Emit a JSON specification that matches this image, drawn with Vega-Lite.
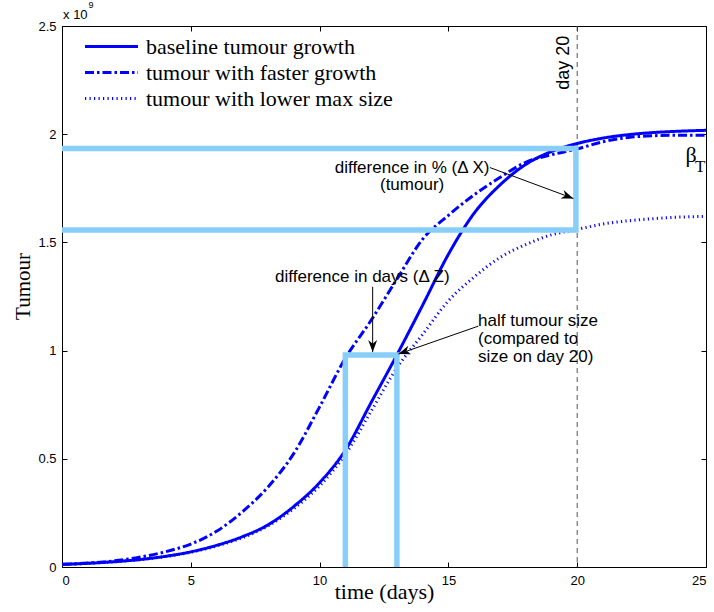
{
  "$schema": "https://vega.github.io/schema/vega-lite/v6.json",
  "width": 644,
  "height": 541,
  "autosize": {"type": "none"},
  "padding": {"left": 62, "top": 26, "right": 8, "bottom": 45},
  "background": "white",
  "config": {
    "view": {"stroke": "#000000", "strokeWidth": 1},
    "font": "Liberation Sans",
    "axis": {"grid": false, "domain": false, "tickColor": "#000000", "tickWidth": 1, "labelColor": "#000000", "titleColor": "#000000"},
    "legend": {"padding": 0}
  },
  "datasets": {
    "curves": [
      {"series": "baseline tumour growth", "t": 0, "v": 0.012},
      {"series": "baseline tumour growth", "t": 1, "v": 0.017},
      {"series": "baseline tumour growth", "t": 2, "v": 0.024},
      {"series": "baseline tumour growth", "t": 3, "v": 0.034},
      {"series": "baseline tumour growth", "t": 4, "v": 0.049},
      {"series": "baseline tumour growth", "t": 5, "v": 0.07},
      {"series": "baseline tumour growth", "t": 6, "v": 0.1},
      {"series": "baseline tumour growth", "t": 7, "v": 0.14},
      {"series": "baseline tumour growth", "t": 8, "v": 0.195},
      {"series": "baseline tumour growth", "t": 9, "v": 0.28},
      {"series": "baseline tumour growth", "t": 10, "v": 0.39},
      {"series": "baseline tumour growth", "t": 11, "v": 0.54},
      {"series": "baseline tumour growth", "t": 12, "v": 0.76},
      {"series": "baseline tumour growth", "t": 13, "v": 0.98},
      {"series": "baseline tumour growth", "t": 14, "v": 1.21},
      {"series": "baseline tumour growth", "t": 15, "v": 1.445},
      {"series": "baseline tumour growth", "t": 16, "v": 1.635},
      {"series": "baseline tumour growth", "t": 17, "v": 1.765},
      {"series": "baseline tumour growth", "t": 18, "v": 1.86},
      {"series": "baseline tumour growth", "t": 19, "v": 1.92},
      {"series": "baseline tumour growth", "t": 20, "v": 1.957},
      {"series": "baseline tumour growth", "t": 21, "v": 1.982},
      {"series": "baseline tumour growth", "t": 22, "v": 1.998},
      {"series": "baseline tumour growth", "t": 23, "v": 2.008},
      {"series": "baseline tumour growth", "t": 24, "v": 2.014},
      {"series": "baseline tumour growth", "t": 25, "v": 2.018},
      {"series": "tumour with faster growth", "t": 0, "v": 0.012},
      {"series": "tumour with faster growth", "t": 1, "v": 0.018},
      {"series": "tumour with faster growth", "t": 2, "v": 0.028},
      {"series": "tumour with faster growth", "t": 3, "v": 0.045},
      {"series": "tumour with faster growth", "t": 4, "v": 0.07},
      {"series": "tumour with faster growth", "t": 5, "v": 0.106},
      {"series": "tumour with faster growth", "t": 6, "v": 0.165},
      {"series": "tumour with faster growth", "t": 7, "v": 0.255},
      {"series": "tumour with faster growth", "t": 8, "v": 0.37},
      {"series": "tumour with faster growth", "t": 9, "v": 0.525},
      {"series": "tumour with faster growth", "t": 10, "v": 0.74},
      {"series": "tumour with faster growth", "t": 11, "v": 0.965},
      {"series": "tumour with faster growth", "t": 12, "v": 1.14},
      {"series": "tumour with faster growth", "t": 13, "v": 1.33},
      {"series": "tumour with faster growth", "t": 14, "v": 1.515},
      {"series": "tumour with faster growth", "t": 15, "v": 1.625},
      {"series": "tumour with faster growth", "t": 16, "v": 1.72},
      {"series": "tumour with faster growth", "t": 17, "v": 1.8},
      {"series": "tumour with faster growth", "t": 18, "v": 1.87},
      {"series": "tumour with faster growth", "t": 19, "v": 1.905},
      {"series": "tumour with faster growth", "t": 20, "v": 1.932},
      {"series": "tumour with faster growth", "t": 21, "v": 1.965},
      {"series": "tumour with faster growth", "t": 22, "v": 1.985},
      {"series": "tumour with faster growth", "t": 23, "v": 1.993},
      {"series": "tumour with faster growth", "t": 24, "v": 1.995},
      {"series": "tumour with faster growth", "t": 25, "v": 1.995},
      {"series": "tumour with lower max size", "t": 0, "v": 0.012},
      {"series": "tumour with lower max size", "t": 1, "v": 0.017},
      {"series": "tumour with lower max size", "t": 2, "v": 0.024},
      {"series": "tumour with lower max size", "t": 3, "v": 0.034},
      {"series": "tumour with lower max size", "t": 4, "v": 0.048},
      {"series": "tumour with lower max size", "t": 5, "v": 0.068},
      {"series": "tumour with lower max size", "t": 6, "v": 0.097},
      {"series": "tumour with lower max size", "t": 7, "v": 0.135},
      {"series": "tumour with lower max size", "t": 8, "v": 0.19},
      {"series": "tumour with lower max size", "t": 9, "v": 0.27},
      {"series": "tumour with lower max size", "t": 10, "v": 0.375},
      {"series": "tumour with lower max size", "t": 11, "v": 0.52},
      {"series": "tumour with lower max size", "t": 12, "v": 0.72},
      {"series": "tumour with lower max size", "t": 13, "v": 0.92},
      {"series": "tumour with lower max size", "t": 14, "v": 1.075},
      {"series": "tumour with lower max size", "t": 15, "v": 1.23},
      {"series": "tumour with lower max size", "t": 16, "v": 1.34},
      {"series": "tumour with lower max size", "t": 17, "v": 1.43},
      {"series": "tumour with lower max size", "t": 18, "v": 1.49},
      {"series": "tumour with lower max size", "t": 19, "v": 1.535},
      {"series": "tumour with lower max size", "t": 20, "v": 1.56},
      {"series": "tumour with lower max size", "t": 21, "v": 1.585},
      {"series": "tumour with lower max size", "t": 22, "v": 1.6},
      {"series": "tumour with lower max size", "t": 23, "v": 1.61},
      {"series": "tumour with lower max size", "t": 24, "v": 1.617},
      {"series": "tumour with lower max size", "t": 25, "v": 1.62}
    ],
    "boxes": [
      {"shape": "dx", "ord": 1, "t": 0, "v": 1.934},
      {"shape": "dx", "ord": 2, "t": 19.95, "v": 1.934},
      {"shape": "dx", "ord": 3, "t": 19.95, "v": 1.557},
      {"shape": "dx", "ord": 4, "t": 0, "v": 1.557},
      {"shape": "dz", "ord": 1, "t": 11, "v": 0},
      {"shape": "dz", "ord": 2, "t": 11, "v": 0.98},
      {"shape": "dz", "ord": 3, "t": 13, "v": 0.98},
      {"shape": "dz", "ord": 4, "t": 13, "v": 0}
    ],
    "arrows": [
      {"t": 16.61, "v": 1.846, "t2": 19.85, "v2": 1.703, "ang": 20.4},
      {"t": 12.06, "v": 1.295, "t2": 12.06, "v2": 0.993, "ang": 90},
      {"t": 16.16, "v": 1.113, "t2": 13.06, "v2": 0.984, "ang": 160.7}
    ],
    "centerText": [
      {"t": 13.59, "v": 1.843, "label": "difference in % (Δ X)"},
      {"t": 13.59, "v": 1.764, "label": "(tumour)"},
      {"t": 11.66, "v": 1.341, "label": "difference in days (Δ Z)"}
    ],
    "leftText": [
      {"t": 16.15, "v": 1.138, "label": "half tumour size"},
      {"t": 16.15, "v": 1.053, "label": "(compared to"},
      {"t": 16.15, "v": 0.97, "label": "size on day 20)"}
    ]
  },
  "layer": [
    {
      "layer": [
        {
          "data": {"values": [{"t": 20}]},
          "mark": {"type": "rule", "color": "#555555", "strokeWidth": 1, "strokeDash": [5, 4]},
          "encoding": {
            "x": {"field": "t", "type": "quantitative", "scale": {"domain": [0, 25], "nice": false, "zero": false}}
          }
        },
        {
          "data": {"name": "curves"},
          "mark": {"type": "line", "interpolate": "monotone", "strokeCap": "butt"},
          "encoding": {
            "x": {"field": "t", "type": "quantitative", "scale": {"domain": [0, 25], "nice": false, "zero": false},
              "axis": {"title": "time (days)", "orient": "bottom", "values": [0, 5, 10, 15, 20, 25], "tickSize": -5, "labelPadding": 12, "labelFontSize": 13, "labelFont": "Liberation Sans", "titleFont": "Liberation Serif", "titleFontSize": 22, "titleFontWeight": "normal", "titlePadding": -6}},
            "y": {"field": "v", "type": "quantitative", "scale": {"domain": [0, 2.5], "nice": false, "zero": false},
              "axis": {"title": "Tumour", "orient": "left", "values": [0, 0.5, 1, 1.5, 2, 2.5], "format": "~g", "tickSize": -5, "labelPadding": 11, "labelFontSize": 13, "labelFont": "Liberation Sans", "titleFont": "Liberation Serif", "titleFontSize": 21, "titleFontWeight": "normal", "titlePadding": 4, "titleY": 260}},
            "color": {"field": "series", "type": "nominal",
              "scale": {"domain": ["baseline tumour growth", "tumour with faster growth", "tumour with lower max size"], "range": ["#0000ff", "#0000ff", "#0000ff"]},
              "legend": {"orient": "none", "legendX": 38, "legendY": 9, "title": null, "symbolType": "M-2.65,0L2.65,0", "symbolSize": 400, "labelFont": "Liberation Serif", "labelFontSize": 22, "labelColor": "#000000", "labelOffset": 23, "labelLimit": 500, "rowPadding": 3}},
            "strokeDash": {"field": "series", "type": "nominal",
              "scale": {"domain": ["baseline tumour growth", "tumour with faster growth", "tumour with lower max size"], "range": [[1, 0], [9, 3, 2.5, 3], [1.2, 3.3]]},
              "legend": {"orient": "none", "legendX": 38, "legendY": 9, "title": null, "symbolType": "M-2.65,0L2.65,0", "symbolSize": 400, "labelFont": "Liberation Serif", "labelFontSize": 22, "labelColor": "#000000", "labelOffset": 23, "labelLimit": 500, "rowPadding": 3}},
            "strokeWidth": {"field": "series", "type": "ordinal",
              "scale": {"domain": ["baseline tumour growth", "tumour with faster growth", "tumour with lower max size"], "range": [3, 3, 1.2]},
              "legend": {"orient": "none", "legendX": 38, "legendY": 9, "title": null, "symbolType": "M-2.65,0L2.65,0", "symbolSize": 400, "labelFont": "Liberation Serif", "labelFontSize": 22, "labelColor": "#000000", "labelOffset": 23, "labelLimit": 500, "rowPadding": 3}}
          }
        }
      ]
    },
    {
      "data": {"name": "boxes"},
      "mark": {"type": "line", "color": "#87CEFA", "strokeWidth": 5.5, "strokeCap": "butt", "strokeJoin": "miter"},
      "encoding": {
        "x": {"field": "t", "type": "quantitative", "scale": {"domain": [0, 25], "nice": false, "zero": false},
          "axis": {"orient": "top", "title": null, "labels": false, "values": [0, 5, 10, 15, 20, 25], "tickSize": -5}},
        "y": {"field": "v", "type": "quantitative", "scale": {"domain": [0, 2.5], "nice": false, "zero": false},
          "axis": {"orient": "right", "title": null, "labels": false, "values": [0, 0.5, 1, 1.5, 2, 2.5], "tickSize": -5}},
        "detail": {"field": "shape", "type": "nominal"},
        "order": {"field": "ord", "type": "quantitative"}
      }
    },
    {
      "layer": [
        {
          "data": {"name": "arrows"},
          "mark": {"type": "rule", "color": "#000000", "strokeWidth": 1},
          "encoding": {
            "x": {"field": "t", "type": "quantitative", "scale": {"domain": [0, 25], "nice": false, "zero": false}, "axis": null},
            "y": {"field": "v", "type": "quantitative", "scale": {"domain": [0, 2.5], "nice": false, "zero": false}, "axis": null},
            "x2": {"field": "t2"},
            "y2": {"field": "v2"}
          }
        },
        {
          "data": {"name": "arrows"},
          "mark": {"type": "point", "shape": "M0,0 L-2,-0.75 L-1.4,0 L-2,0.75 Z", "size": 144, "filled": true, "color": "#000000", "opacity": 1},
          "encoding": {
            "x": {"field": "t2", "type": "quantitative", "scale": {"domain": [0, 25], "nice": false, "zero": false}, "axis": null},
            "y": {"field": "v2", "type": "quantitative", "scale": {"domain": [0, 2.5], "nice": false, "zero": false}, "axis": null},
            "angle": {"field": "ang", "type": "quantitative", "scale": null}
          }
        },
        {
          "data": {"name": "centerText"},
          "mark": {"type": "text", "font": "Liberation Sans", "fontSize": 17, "align": "center", "baseline": "middle", "color": "#000000"},
          "encoding": {
            "x": {"field": "t", "type": "quantitative", "scale": {"domain": [0, 25], "nice": false, "zero": false}, "axis": null},
            "y": {"field": "v", "type": "quantitative", "scale": {"domain": [0, 2.5], "nice": false, "zero": false}, "axis": null},
            "text": {"field": "label"}
          }
        },
        {
          "data": {"name": "leftText"},
          "mark": {"type": "text", "font": "Liberation Sans", "fontSize": 17, "align": "left", "baseline": "middle", "color": "#000000"},
          "encoding": {
            "x": {"field": "t", "type": "quantitative", "scale": {"domain": [0, 25], "nice": false, "zero": false}, "axis": null},
            "y": {"field": "v", "type": "quantitative", "scale": {"domain": [0, 2.5], "nice": false, "zero": false}, "axis": null},
            "text": {"field": "label"}
          }
        },
        {
          "data": {"values": [{"t": 19.49, "v": 2.33, "label": "day 20"}]},
          "mark": {"type": "text", "font": "Liberation Sans", "fontSize": 18, "align": "center", "baseline": "middle", "angle": 270, "color": "#000000"},
          "encoding": {
            "x": {"field": "t", "type": "quantitative", "scale": {"domain": [0, 25], "nice": false, "zero": false}, "axis": null},
            "y": {"field": "v", "type": "quantitative", "scale": {"domain": [0, 2.5], "nice": false, "zero": false}, "axis": null},
            "text": {"field": "label"}
          }
        },
        {
          "data": {"values": [{"t": 24.42, "v": 1.903, "label": "β"}]},
          "mark": {"type": "text", "font": "Liberation Serif", "fontSize": 22, "align": "center", "baseline": "middle", "color": "#000000"},
          "encoding": {
            "x": {"field": "t", "type": "quantitative", "scale": {"domain": [0, 25], "nice": false, "zero": false}, "axis": null},
            "y": {"field": "v", "type": "quantitative", "scale": {"domain": [0, 2.5], "nice": false, "zero": false}, "axis": null},
            "text": {"field": "label"}
          }
        },
        {
          "data": {"values": [{"t": 24.77, "v": 1.85, "label": "T"}]},
          "mark": {"type": "text", "font": "Liberation Serif", "fontSize": 17, "align": "center", "baseline": "middle", "color": "#000000"},
          "encoding": {
            "x": {"field": "t", "type": "quantitative", "scale": {"domain": [0, 25], "nice": false, "zero": false}, "axis": null},
            "y": {"field": "v", "type": "quantitative", "scale": {"domain": [0, 2.5], "nice": false, "zero": false}, "axis": null},
            "text": {"field": "label"}
          }
        },
        {
          "data": {"values": [{"t": 0.04, "v": 2.55, "label": "x 10"}]},
          "mark": {"type": "text", "font": "Liberation Sans", "fontSize": 13, "align": "left", "baseline": "middle", "color": "#000000"},
          "encoding": {
            "x": {"field": "t", "type": "quantitative", "scale": {"domain": [0, 25], "nice": false, "zero": false}, "axis": null},
            "y": {"field": "v", "type": "quantitative", "scale": {"domain": [0, 2.5], "nice": false, "zero": false}, "axis": null},
            "text": {"field": "label"}
          }
        },
        {
          "data": {"values": [{"t": 1.03, "v": 2.596, "label": "9"}]},
          "mark": {"type": "text", "font": "Liberation Sans", "fontSize": 9, "align": "left", "baseline": "middle", "color": "#000000"},
          "encoding": {
            "x": {"field": "t", "type": "quantitative", "scale": {"domain": [0, 25], "nice": false, "zero": false}, "axis": null},
            "y": {"field": "v", "type": "quantitative", "scale": {"domain": [0, 2.5], "nice": false, "zero": false}, "axis": null},
            "text": {"field": "label"}
          }
        }
      ]
    }
  ],
  "resolve": {"axis": {"x": "independent", "y": "independent"}}
}
